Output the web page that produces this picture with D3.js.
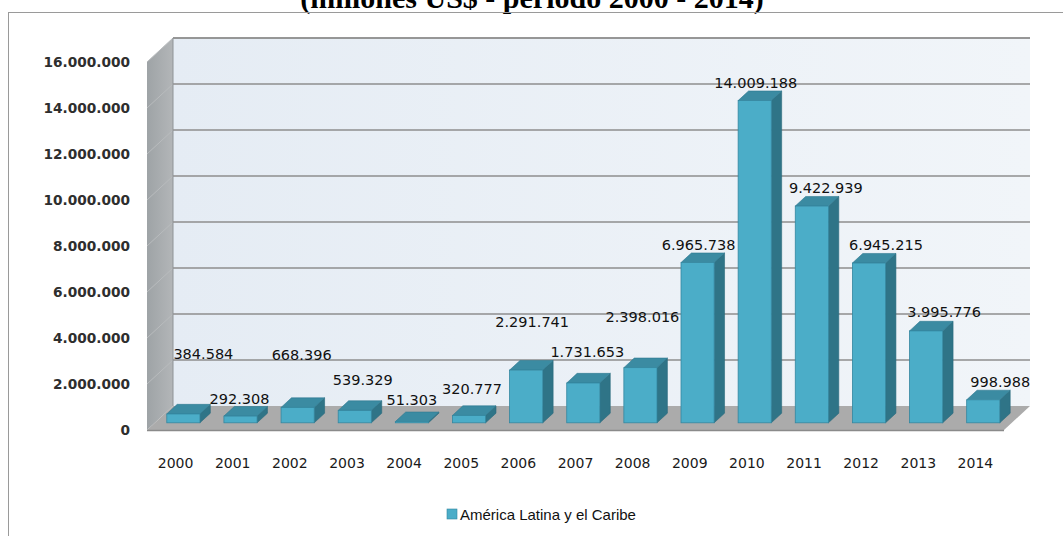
<!DOCTYPE html>
<html><head><meta charset="utf-8">
<script src="https://cdn.jsdelivr.net/npm/d3@7/dist/d3.min.js"></script>
<style>html,body{margin:0;padding:0;background:#fff;}svg{display:block;}</style>
</head><body>
<svg id="chart" width="1063" height="536"></svg>
<script>
// ---------- data ----------
const titleText = "(millones US$ - período 2000 - 2014)";
const seriesName = "América Latina y el Caribe";
const years = ["2000","2001","2002","2003","2004","2005","2006","2007","2008","2009","2010","2011","2012","2013","2014"];
const values = [384584, 292308, 668396, 539329, 51303, 320777, 2291741, 1731653, 2398016, 6965738, 14009188, 9422939, 6945215, 3995776, 998988];
const yTicks = [0, 2000000, 4000000, 6000000, 8000000, 10000000, 12000000, 14000000, 16000000];

// ---------- layout (label placement as in original) ----------
const labelDx   = [20, -1, 4, 8, 0, 3, 6, 4, 2, 1, 1, 14, 17, 18, 17];
const labelLift = [60, 17, 53, 31, 22, 27, 48, 31, 51, 18, 18, 18, 18, 19, 18];

const FX0 = 147, FX1 = 1004, FY0 = 430, FY1 = 62;
const DX = 26, DY = -24;        // depth vector of the 3D box
const D0 = 0.3, D1 = 0.7;       // bar depth range

const svg = d3.select("#chart");
const loc = d3.formatLocale({decimal: ",", thousands: ".", grouping: [3], currency: ["$", ""]});
const fmt = loc.format(",d");

const x = d3.scaleBand().domain(years).range([FX0, FX1]).paddingInner(0.42).paddingOuter(0.21);
const y = d3.scaleLinear().domain([0, 16000000]).range([FY0, FY1]);
const P = (px, py, d) => [px + d * DX, py + d * DY];
const poly = pts => pts.map(p => p.join(",")).join(" ");

const defs = svg.append("defs");
const gw = defs.append("linearGradient").attr("id", "wall").attr("x1", 0).attr("x2", 1).attr("y1", 0).attr("y2", 0);
gw.append("stop").attr("offset", 0).attr("stop-color", "#e5ecf4");
gw.append("stop").attr("offset", 1).attr("stop-color", "#f1f5f9");
const gs = defs.append("linearGradient").attr("id", "side").attr("x1", 0).attr("x2", 1).attr("y1", 0).attr("y2", 0);
gs.append("stop").attr("offset", 0).attr("stop-color", "#9ea3a6");
gs.append("stop").attr("offset", 1).attr("stop-color", "#b3b6b8");

// title (cut by the top edge, as in the original)
svg.append("text").attr("x", 532).attr("y", 8).attr("text-anchor", "middle")
  .style("font-family", "'Liberation Serif','Times New Roman',serif").style("font-weight", "bold")
  .style("font-size", "30px").attr("fill", "#000").text(titleText);

// outer border
svg.append("rect").attr("x", 8.5).attr("y", 12.5).attr("width", 1100).attr("height", 600)
  .attr("fill", "none").attr("stroke", "#9a9a9a").attr("stroke-width", 1);

// back wall
const [bx0, by0] = P(FX0, y(16000000), 1);
const [bx1, by1] = P(FX1, y(0), 1);
svg.append("rect").attr("x", bx0).attr("y", by0).attr("width", bx1 - bx0).attr("height", by1 - by0)
  .attr("fill", "url(#wall)");
svg.append("line").attr("x1", bx0).attr("x2", bx1).attr("y1", by0).attr("y2", by0)
  .attr("stroke", "#9a9a9a").attr("stroke-width", 1.5);

// side wall
svg.append("polygon").attr("points", poly([
  P(FX0, y(16000000), 0), P(FX0, y(16000000), 1), P(FX0, y(0), 1), P(FX0, y(0), 0)
])).attr("fill", "url(#side)");

// gridlines
yTicks.filter(t => t > 0).forEach(t => {
  const a = P(FX0, y(t), 1), b = P(FX1, y(t), 1), c = P(FX0, y(t), 0);
  svg.append("line").attr("x1", a[0]).attr("y1", a[1]).attr("x2", b[0]).attr("y2", b[1])
    .attr("stroke", "#8e8e8e").attr("stroke-width", 1.6);
  svg.append("line").attr("x1", c[0]).attr("y1", c[1]).attr("x2", a[0]).attr("y2", a[1])
    .attr("stroke", "#b9bcbe").attr("stroke-width", 1);
});
// corner line
svg.append("line").attr("x1", bx0).attr("x2", bx0).attr("y1", by0).attr("y2", by1)
  .attr("stroke", "#8f9396").attr("stroke-width", 1);

// floor
svg.append("polygon").attr("points", poly([
  P(FX0, y(0), 0), P(FX1, y(0), 0), P(FX1, y(0), 1), P(FX0, y(0), 1)
])).attr("fill", "#ababab");
svg.append("line").attr("x1", FX0).attr("x2", FX1).attr("y1", y(0) + 0.5).attr("y2", y(0) + 0.5)
  .attr("stroke", "#8a8a8a").attr("stroke-width", 1.5);

// bars
const bw = x.bandwidth();
const bars = svg.append("g");
years.forEach((yr, i) => {
  const x0 = x(yr), x1 = x0 + bw, yt = y(values[i]), yb = y(0);
  const g = bars.append("g");
  g.append("polygon").attr("points", poly([P(x1, yt, D0), P(x1, yt, D1), P(x1, yb, D1), P(x1, yb, D0)]))
    .attr("fill", "#2f7487").attr("stroke", "#2a6a7c").attr("stroke-width", 0.6);
  g.append("polygon").attr("points", poly([P(x0, yt, D0), P(x1, yt, D0), P(x1, yt, D1), P(x0, yt, D1)]))
    .attr("fill", "#3b8ba2").attr("stroke", "#2f7890").attr("stroke-width", 0.6);
  const f0 = P(x0, yt, D0), f1 = P(x1, yb, D0);
  g.append("rect").attr("x", f0[0]).attr("y", f0[1]).attr("width", f1[0] - f0[0]).attr("height", f1[1] - f0[1])
    .attr("fill", "#4badc8").attr("stroke", "#3487a0").attr("stroke-width", 0.8);
});

// y axis labels
const yAxis = d3.axisLeft(y).tickValues(yTicks).tickFormat(fmt).tickSize(0).tickPadding(17);
const ya = svg.append("g").attr("transform", `translate(${FX0},0)`).call(yAxis);
ya.select(".domain").remove();
ya.selectAll("text").style("font-family", "'DejaVu Sans',sans-serif").style("font-weight", "bold")
  .style("font-size", "13.7px").attr("fill", "#2e2e2e");

// x axis labels
const xAxis = d3.axisBottom(x).tickSize(0).tickPadding(28);
const xa = svg.append("g").attr("transform", `translate(0,${FY0})`).call(xAxis);
xa.select(".domain").remove();
xa.selectAll("text").style("font-family", "'DejaVu Sans',sans-serif").style("font-size", "14px").attr("fill", "#1a1a1a");

// data labels
svg.append("g").selectAll("text").data(values).join("text")
  .attr("x", (v, i) => x(years[i]) + bw / 2 + D0 * DX + labelDx[i])
  .attr("y", (v, i) => y(v) + D0 * DY - labelLift[i] + 5.3)
  .attr("text-anchor", "middle")
  .style("font-family", "'DejaVu Sans',sans-serif").style("font-size", "14.5px").attr("fill", "#111")
  .text(v => fmt(v));

// legend
const lg = svg.append("g");
lg.append("rect").attr("x", 447).attr("y", 509).attr("width", 10).attr("height", 10)
  .attr("fill", "#4badc8").attr("stroke", "#3487a0").attr("stroke-width", 0.6);
lg.append("text").attr("x", 460).attr("y", 519.5)
  .style("font-family", "'Liberation Sans',Arial,sans-serif").style("font-size", "15px").attr("fill", "#111")
  .text(seriesName);
</script>
</body></html>
